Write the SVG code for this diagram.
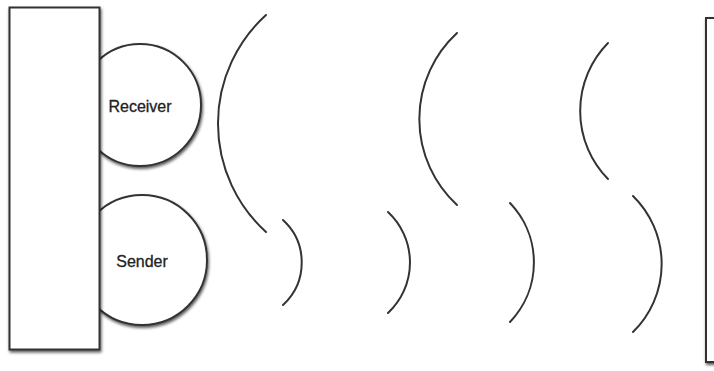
<svg xmlns="http://www.w3.org/2000/svg" width="714" height="371" viewBox="0 0 714 371">
<defs>
<filter id="sh" x="-20%" y="-20%" width="140%" height="140%">
<feDropShadow dx="1" dy="2" stdDeviation="1.8" flood-color="#000" flood-opacity="0.65"/>
</filter>
</defs>
<style>
.box{fill:#fff;stroke:#333;stroke-width:2;filter:url(#sh)}
.wave{fill:none;stroke:#333;stroke-width:2;stroke-linecap:round}
.lbl{font-family:"Liberation Sans",Arial,sans-serif;font-size:16px;fill:#222;stroke:#222;stroke-width:0.3;text-anchor:middle}
</style>
<rect width="714" height="371" fill="#fff"/>
<g id="receiver">
<circle class="box" cx="140" cy="105" r="61"/>
<text class="lbl" x="140" y="112">Receiver</text>
</g>
<g id="sender">
<circle class="box" cx="142" cy="260" r="65"/>
<text class="lbl" x="142" y="267">Sender</text>
</g>
<g id="device">
<rect class="box" x="9.5" y="7.5" width="90" height="342"/>
</g>
<g id="reflector">
<rect class="box" x="706" y="18" width="30" height="344"/>
</g>
<g id="waves">
<path class="wave" d="M266,15 A146.6,146.6 0 0 0 266,232"/>
<path class="wave" d="M457,33 A117,117 0 0 0 457,205"/>
<path class="wave" d="M608,43 A97,97 0 0 0 608,179"/>
<path class="wave" d="M283,220 A57.6,57.6 0 0 1 283,305"/>
<path class="wave" d="M388,212 A69,69 0 0 1 388,313"/>
<path class="wave" d="M510,203 A86,86 0 0 1 510,322"/>
<path class="wave" d="M633,196 A95,95 0 0 1 633,332"/>
</g>
</svg>
